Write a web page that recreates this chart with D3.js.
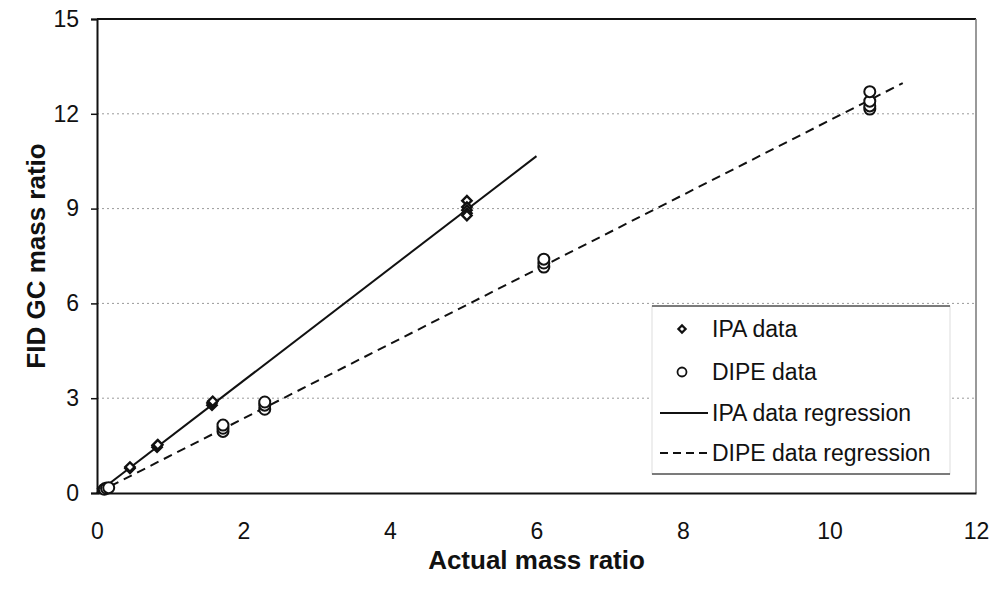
<!DOCTYPE html>
<html>
<head>
<meta charset="utf-8">
<script src="https://cdn.jsdelivr.net/npm/d3@7"></script>
<style>
  html, body { margin: 0; padding: 0; background: #fff; }
  svg { display: block; font-family: Arial, "Liberation Sans", sans-serif; }
</style>
</head>
<body>
<svg id="chart" width="999" height="593"></svg>
<script>
// Measured samples: IPA (diamonds) and DIPE (circles)
const ipaX = [0.08, 0.10, 0.12, 0.45, 0.45, 0.82, 0.82, 0.83, 1.57, 1.57, 1.58, 5.05, 5.05, 5.05, 5.05, 5.05];
const ipaY = [0.14, 0.15, 0.16, 0.78, 0.82, 1.45, 1.50, 1.53, 2.78, 2.85, 2.90, 9.25, 9.05, 8.95, 8.85, 8.78];

const dipeX = [0.10, 0.13, 0.16, 1.72, 1.72, 1.72, 2.29, 2.29, 2.29, 6.10, 6.10, 6.10, 10.55, 10.55, 10.55, 10.55];
const dipeY = [0.12, 0.15, 0.17, 1.95, 2.05, 2.15, 2.65, 2.78, 2.88, 7.15, 7.28, 7.40, 12.15, 12.25, 12.40, 12.70];

// Regression lines (end points in data units)
const ipaFitX = [0, 6];
const ipaFitY = [0, 10.66];
const dipeFitX = [0, 11];
const dipeFitY = [0, 12.97];

// Axes
const xTicks = [0, 2, 4, 6, 8, 10, 12];
const yTicks = [0, 3, 6, 9, 12, 15];
const gridY = [3, 6, 9, 12];

const legendLabels = ["IPA data", "DIPE data", "IPA data regression", "DIPE data regression"];

const svg = d3.select("#chart");
const x = d3.scaleLinear().domain([0, 12]).range([97, 976]);
const y = d3.scaleLinear().domain([0, 15]).range([493, 19]);

// horizontal gridlines
svg.append("g").selectAll("line").data(gridY).join("line")
  .attr("x1", x(0)).attr("x2", x(12))
  .attr("y1", d => y(d)).attr("y2", d => y(d))
  .attr("stroke", "#9a9a9a").attr("stroke-width", 1)
  .attr("stroke-dasharray", "2,3");

// plot frame: top and right
svg.append("line").attr("x1", x(0)).attr("x2", x(12)).attr("y1", y(15)).attr("y2", y(15))
  .attr("stroke", "#111").attr("stroke-width", 2);
svg.append("line").attr("x1", x(12)).attr("x2", x(12)).attr("y1", y(15)).attr("y2", y(0))
  .attr("stroke", "#777").attr("stroke-width", 1.5);

// y axis
const yAxis = svg.append("g").attr("transform", `translate(${x(0)},0)`)
  .call(d3.axisLeft(y).tickValues(yTicks).tickSize(6).tickPadding(12).tickFormat(d3.format("d")));
yAxis.select(".domain").attr("stroke", "#111").attr("stroke-width", 2);
yAxis.selectAll(".tick line").attr("stroke", "#111").attr("stroke-width", 1.5);
yAxis.selectAll("text").attr("font-size", 23).attr("fill", "#111")
  .attr("font-family", "Arial, 'Liberation Sans', sans-serif");

// x axis
const xAxis = svg.append("g").attr("transform", `translate(0,${y(0)})`)
  .call(d3.axisBottom(x).tickValues(xTicks).tickSize(0).tickPadding(30).tickFormat(d3.format("d")));
xAxis.select(".domain").attr("stroke", "#111").attr("stroke-width", 2);
xAxis.selectAll("text").attr("font-size", 23).attr("fill", "#111")
  .attr("font-family", "Arial, 'Liberation Sans', sans-serif");

// axis titles
svg.append("text").attr("x", (x(0) + x(12)) / 2).attr("y", 569)
  .attr("text-anchor", "middle").attr("font-size", 26).attr("font-weight", "bold").attr("fill", "#111")
  .text("Actual mass ratio");
svg.append("text")
  .attr("transform", `translate(45,${(y(0) + y(15)) / 2}) rotate(-90)`)
  .attr("text-anchor", "middle").attr("font-size", 26).attr("font-weight", "bold").attr("fill", "#111")
  .text("FID GC mass ratio");

// regression lines
const line = d3.line().x(d => x(d[0])).y(d => y(d[1]));
svg.append("path").datum(d3.zip(ipaFitX, ipaFitY)).attr("d", line)
  .attr("fill", "none").attr("stroke", "#111").attr("stroke-width", 2);
svg.append("path").datum(d3.zip(dipeFitX, dipeFitY)).attr("d", line)
  .attr("fill", "none").attr("stroke", "#111").attr("stroke-width", 2)
  .attr("stroke-dasharray", "9,6");

// markers: diamonds are squares turned by 45 degrees
const square = d3.symbol().type(d3.symbolSquare).size(44);
svg.append("g").selectAll("path").data(d3.zip(ipaX, ipaY)).join("path")
  .attr("d", square)
  .attr("transform", d => `translate(${x(d[0])},${y(d[1])}) rotate(45)`)
  .attr("fill", "#fff").attr("stroke", "#111").attr("stroke-width", 2.4);
svg.append("g").selectAll("circle").data(d3.zip(dipeX, dipeY)).join("circle")
  .attr("cx", d => x(d[0])).attr("cy", d => y(d[1])).attr("r", 5.5)
  .attr("fill", "#fff").attr("stroke", "#111").attr("stroke-width", 2);

// legend
const lg = svg.append("g");
lg.append("rect").attr("x", 652).attr("y", 306).attr("width", 298).attr("height", 168)
  .attr("fill", "#fff").attr("stroke", "#ddd").attr("stroke-width", 1);
lg.append("line").attr("x1", 652).attr("x2", 950).attr("y1", 306).attr("y2", 306)
  .attr("stroke", "#555").attr("stroke-width", 1.5);
lg.append("line").attr("x1", 652).attr("x2", 950).attr("y1", 474).attr("y2", 474)
  .attr("stroke", "#555").attr("stroke-width", 1.5);

const rowY = [329, 372, 413, 453];
lg.append("path").attr("d", d3.symbol().type(d3.symbolSquare).size(26)())
  .attr("transform", `translate(682,${rowY[0]}) rotate(45)`)
  .attr("fill", "#fff").attr("stroke", "#111").attr("stroke-width", 2.2);
lg.append("circle").attr("cx", 682).attr("cy", rowY[1]).attr("r", 4.5)
  .attr("fill", "#fff").attr("stroke", "#111").attr("stroke-width", 1.8);
lg.append("line").attr("x1", 660).attr("x2", 708).attr("y1", rowY[2]).attr("y2", rowY[2])
  .attr("stroke", "#111").attr("stroke-width", 2);
lg.append("line").attr("x1", 660).attr("x2", 708).attr("y1", rowY[3]).attr("y2", rowY[3])
  .attr("stroke", "#111").attr("stroke-width", 2).attr("stroke-dasharray", "8,5");

lg.selectAll("text.lbl").data(legendLabels).join("text").attr("class", "lbl")
  .attr("x", 712).attr("y", (d, i) => rowY[i]).attr("dy", "0.36em")
  .attr("font-size", 23).attr("fill", "#111")
  .text(d => d);
</script>
</body>
</html>
